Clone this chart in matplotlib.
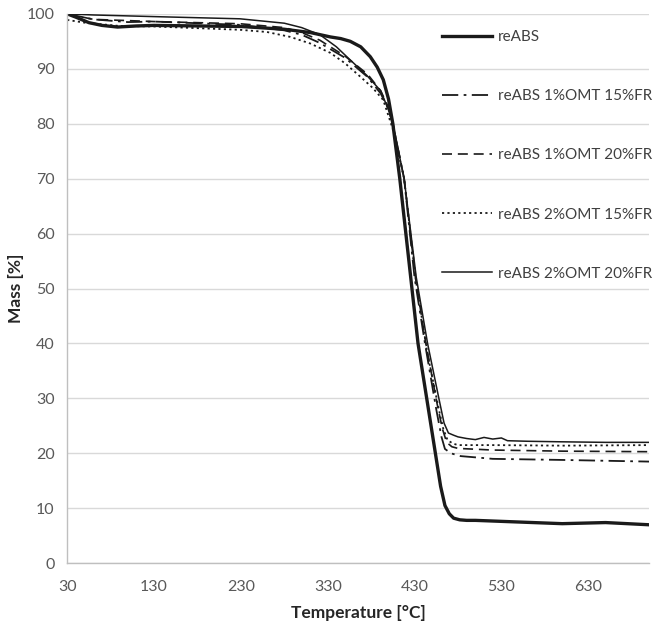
import matplotlib
matplotlib.use("Agg")
from matplotlib import pyplot as plt

# 전역 설정
plt.rcParams["font.family"] = ["Lato", "DejaVu Sans"]
plt.rcParams["font.size"] = 11

# TGA 데이터
t_reabs = [30, 40, 55, 70, 88, 110, 130, 180, 230, 280, 310, 333, 345, 356, 368, 379, 387, 394,
           400, 405, 413, 420, 427, 434, 444, 454, 460, 465, 470, 475, 482, 490, 500, 550, 600, 650, 700]
m_reabs = [100, 99.4, 98.4, 97.9, 97.6, 97.8, 97.9, 97.8, 97.7, 97.2, 96.6, 95.8, 95.5, 95.0, 94.0, 92.2,
           90.3, 88.0, 84.5, 80.0, 70.0, 60.0, 50.0, 40.0, 30.0, 20.0, 14.0, 10.5, 9.0, 8.2, 7.9, 7.8,
           7.8, 7.5, 7.2, 7.4, 7.0]

t_1_15 = [30, 60, 100, 130, 229, 280, 300, 321, 350, 376, 391, 399, 405, 418, 430, 442, 455, 461,
          465, 472, 483, 520, 600, 700]
m_1_15 = [100, 99.0, 98.5, 98.6, 98.0, 97.0, 96.2, 94.7, 92.0, 88.5, 85.5, 83.0, 80.0, 70.0, 52.0,
          40.0, 28.0, 23.0, 20.8, 20.0, 19.5, 19.0, 18.8, 18.5]

t_1_20 = [30, 60, 130, 229, 280, 300, 321, 350, 376, 391, 399, 405, 418, 431, 443, 456, 462, 467,
          473, 480, 520, 600, 700]
m_1_20 = [100, 99.0, 98.6, 98.2, 97.5, 96.6, 95.2, 92.3, 89.0, 86.0, 83.3, 80.0, 70.0, 52.0, 40.0,
          29.0, 24.5, 22.0, 21.2, 20.9, 20.6, 20.4, 20.3]

t_2_15 = [30, 50, 90, 130, 229, 260, 287, 310, 333, 350, 368, 382, 394, 405, 418, 432, 445, 458,
          463, 468, 474, 480, 520, 600, 700]
m_2_15 = [98.9, 98.4, 97.8, 97.7, 97.1, 96.7, 95.8, 94.6, 92.9, 91.0, 88.5, 86.5, 84.3, 79.0, 70.0,
          51.0, 38.0, 28.0, 24.5, 22.4, 21.8, 21.5, 21.5, 21.4, 21.5]

t_2_20 = [30, 60, 130, 229, 280, 300, 321, 340, 356, 375, 391, 400, 405, 418, 432, 445, 458, 464,
          469, 475, 480, 490, 500, 510, 520, 530, 537, 560, 600, 650, 700]
m_2_20 = [100, 99.8, 99.5, 99.1, 98.3, 97.5, 96.2, 94.0, 91.6, 88.8, 86.0, 82.5, 80.0, 70.0, 52.0,
          40.0, 30.0, 25.5, 23.7, 23.3, 23.0, 22.7, 22.5, 22.9, 22.6, 22.8, 22.3, 22.2, 22.1, 22.0, 22.0]

labels = ['reABS', 'reABS 1%OMT 15%FR', 'reABS 1%OMT 20%FR',
          'reABS 2%OMT 15%FR', 'reABS 2%OMT 20%FR']
x_ticks = [30, 130, 230, 330, 430, 530, 630]
y_ticks = [0, 10, 20, 30, 40, 50, 60, 70, 80, 90, 100]

fig = plt.figure(figsize=(6.65, 6.3), dpi=100)
ax = fig.add_axes([0.101, 0.106, 0.875, 0.872])

ink = '#1a1a1a'
ax.plot(t_reabs, m_reabs, color=ink, lw=2.4, label=labels[0])
ax.plot(t_1_15, m_1_15, color=ink, lw=1.3, dashes=(9, 3, 1.5, 3), label=labels[1])
ax.plot(t_1_20, m_1_20, color=ink, lw=1.2, dashes=(6, 3.5), label=labels[2])
ax.plot(t_2_15, m_2_15, color=ink, lw=1.3, dashes=(1.2, 1.8), label=labels[3])
ax.plot(t_2_20, m_2_20, color=ink, lw=1.1, label=labels[4])

ax.set_xlim(30, 700)
ax.set_ylim(0, 100)
ax.set_xticks(x_ticks)
ax.set_yticks(y_ticks)
ax.tick_params(length=0, labelsize=11.5, colors='#595959', pad=9)
ax.tick_params(axis='x', pad=12)

ax.grid(axis='y', color='#d9d9d9', lw=1)
ax.set_axisbelow(True)
for side in ['top', 'right']:
    ax.spines[side].set_visible(False)
for side in ['left', 'bottom']:
    ax.spines[side].set_color('#bfbfbf')
    ax.spines[side].set_linewidth(1)

ax.set_xlabel('Temperature [°C]', fontsize=12.5, fontweight='bold', color='#262626', labelpad=8)
ax.set_ylabel('Mass [%]', fontsize=12.5, fontweight='bold', color='#262626', labelpad=2)

leg = ax.legend(loc='upper left', bbox_to_anchor=(0.62, 0.995), frameon=False,
                handlelength=3.3, handletextpad=0.4, labelspacing=2.95, fontsize=11)
for txt in leg.get_texts():
    txt.set_color('#404040')

fig.savefig('out.png', dpi=100, facecolor='white')
plt.close()
